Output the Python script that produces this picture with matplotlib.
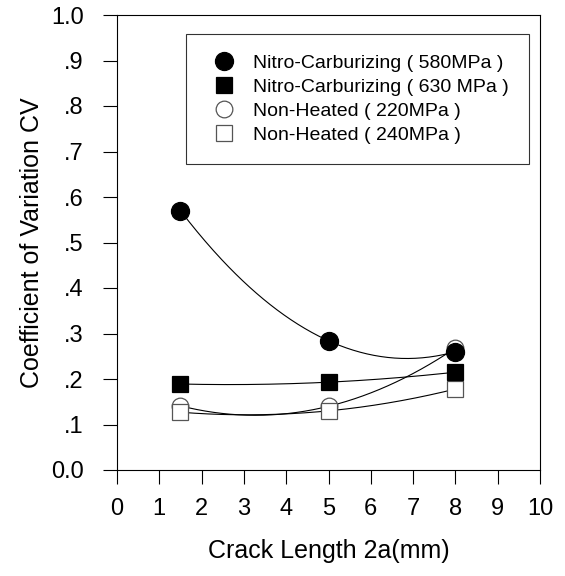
import numpy as np
import matplotlib
matplotlib.use("Agg")
import matplotlib.pyplot as plt
from matplotlib.ticker import FixedLocator, FixedFormatter

plt.rcParams['font.family'] = ['Liberation Sans', 'DejaVu Sans']

# Crack length (mm) and coefficient of variation for each series
crack_length = [1.5, 5.0, 8.0]
nc_580 = [0.570, 0.284, 0.260]
nc_630 = [0.189, 0.193, 0.215]
nh_220 = [0.141, 0.140, 0.268]
nh_240 = [0.127, 0.130, 0.178]

labels = ["Nitro-Carburizing ( 580MPa )",
          "Nitro-Carburizing ( 630 MPa )",
          "Non-Heated ( 220MPa )",
          "Non-Heated ( 240MPa )"]

x_ticks = list(range(0, 11))
y_ticks = [0.0, 0.1, 0.2, 0.3, 0.4, 0.5, 0.6, 0.7, 0.8, 0.9, 1.0]
y_tick_labels = ["0.0", ".1", ".2", ".3", ".4", ".5", ".6", ".7", ".8", ".9", "1.0"]

fig = plt.figure(figsize=(5.65, 5.76), dpi=100)
ax = fig.add_axes([117/565, 1 - 470/576, (540 - 117)/565, (470 - 15)/576])

# filled markers sit above the open ones
styles = [
    dict(marker='o', mfc='black', mec='black', ms=13, zorder=4),
    dict(marker='s', mfc='black', mec='black', ms=11.5, zorder=4),
    dict(marker='o', mfc='white', mec='#555555', ms=12, zorder=3),
    dict(marker='s', mfc='white', mec='#555555', ms=11, zorder=3),
]
series = [nc_580, nc_630, nh_220, nh_240]

xs = np.array(crack_length)
xf = np.linspace(xs.min(), xs.max(), 200)
handles = []
for ys in series:
    coef = np.polyfit(xs, np.array(ys), 2)
    ax.plot(xf, np.polyval(coef, xf), color='black', lw=0.8, zorder=2)

for ys, st, lab in zip(series, styles, labels):
    h, = ax.plot(xs, ys, linestyle='none', mew=0.9, label=lab, **st)
    handles.append(h)

ax.set_xlim(0, 10)
ax.set_ylim(0, 1.0)
ax.xaxis.set_major_locator(FixedLocator(x_ticks))
ax.yaxis.set_major_locator(FixedLocator(y_ticks))
ax.yaxis.set_major_formatter(FixedFormatter(y_tick_labels))
ax.tick_params(direction='out', length=10, width=0.8, labelsize=17, pad=10)
ax.tick_params(axis='y', pad=14)
for sp in ax.spines.values():
    sp.set_linewidth(0.8)

ax.set_xlabel("Crack Length 2a(mm)", fontsize=18, labelpad=14)
ax.set_ylabel("Coefficient of Variation CV", fontsize=18, labelpad=5)

leg = ax.legend(handles=handles, loc='upper left',
                bbox_to_anchor=((186 - 117)/423, 1 - (34 - 15)/455),
                fontsize=14, frameon=True, fancybox=False, edgecolor='black',
                borderpad=1.05, labelspacing=0.32, handletextpad=0.6,
                handlelength=1.8, borderaxespad=0)
leg.get_frame().set_linewidth(0.8)

fig.savefig("out.png", dpi=100)
